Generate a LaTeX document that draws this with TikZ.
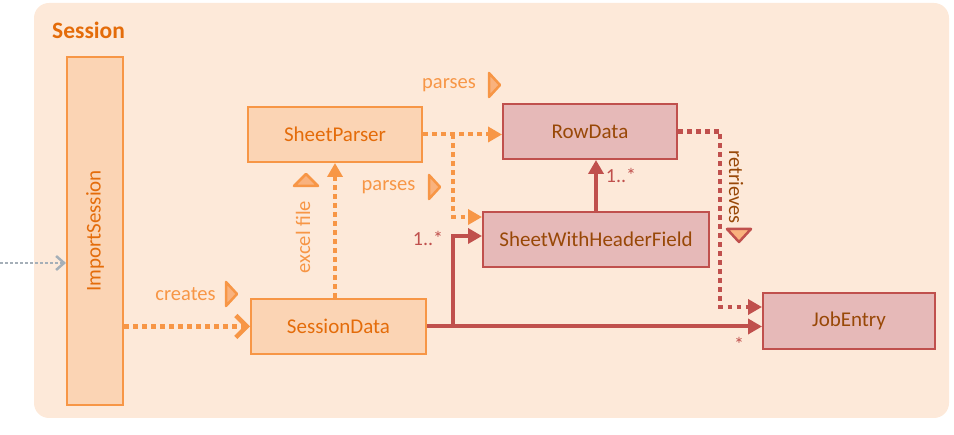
\documentclass[tikz,border=0pt]{standalone}
\usepackage{fontspec}
\setmainfont{Carlito}
\usepackage{xcolor}
\usepackage{tikz}
\usetikzlibrary{arrows.meta}

\definecolor{sessbg}{HTML}{FDE9D9}
\definecolor{orbox}{HTML}{FBD4B4}
\definecolor{orline}{HTML}{F79646}
\definecolor{ortext}{HTML}{E46C0A}
\definecolor{rdbox}{HTML}{E6B9B8}
\definecolor{rdline}{HTML}{C0504D}
\definecolor{brtext}{HTML}{984807}
\definecolor{trifill}{HTML}{F9B27E}
\definecolor{grayline}{HTML}{A5AFB8}

\begin{document}
\begin{tikzpicture}[x=1pt, y=-1pt,
	boxfont/.style={font=\fontsize{21}{25}\selectfont},
	orclass/.style={boxfont, draw=orline, fill=orbox, line width=2pt, text=ortext, inner sep=0pt},
	rdclass/.style={boxfont, draw=rdline, fill=rdbox, line width=2pt, text=brtext, inner sep=0pt},
	ordep/.style={draw=orline, line width=4.5pt, dash pattern=on 4.5pt off 4.5pt},
	rddep/.style={draw=rdline, line width=4.5pt, dash pattern=on 4.5pt off 4.5pt},
	rdassoc/.style={draw=rdline, line width=4pt, -{Triangle[length=14pt, width=15pt]}},
	tri/.style={line width=2.5pt, line join=round, fill=trifill},
	lbl/.style={font=\fontsize{20.5}{24}\selectfont, text=orline, inner sep=0pt},
	mult/.style={font=\fontsize{20}{24}\selectfont, text=rdline, inner sep=0pt}]
	\useasboundingbox (0, 0) rectangle (954, 435);
	\fill[sessbg, rounded corners=15pt] (34, 3) rectangle (949, 418);
	\node[anchor=west, inner sep=0pt, text=ortext, font=\fontsize{23.5}{28}\selectfont\bfseries] (title) at (52, 30) {Session};
	
	\node[orclass, minimum width=56, minimum height=348,
		label={[rotate=90, boxfont, text=ortext]center:ImportSession}] (importsession) at (95, 231) {};
	\node[orclass, minimum width=174, minimum height=55] (sheetparser) at (335, 134.5) {SheetParser};
	\node[orclass, minimum width=175, minimum height=55] (sessiondata) at (338.5, 326.5) {SessionData};
	\node[rdclass, minimum width=174, minimum height=55] (rowdata) at (590, 131.5) {RowData};
	\node[rdclass, minimum width=226, minimum height=55] (swhf) at (596, 239.5) {SheetWithHeaderField};
	\node[rdclass, minimum width=172, minimum height=56] (jobentry) at (849, 321) {JobEntry};
	
	\coordinate (entry) at (0, 263);
	\coordinate (pbranch) at (453, 134.5);
	\coordinate (sbranch) at (453, 326.5);
	\coordinate (rturn) at (720, 131.5);
	
	\draw[draw=grayline, line width=2.5pt, dash pattern=on 2.5pt off 2.5pt,
		-{Straight Barb[length=8pt, width=14pt, line width=2.5pt]}] (entry) -- (entry -| importsession.west);
	\draw[ordep, -{Straight Barb[length=11pt, width=22pt, line width=4.5pt]}] (importsession.east |- sessiondata.west) -- (sessiondata.west);
	\draw[ordep, line width=4pt, -{Triangle[length=14pt, width=15pt]}] (sheetparser.south |- sessiondata.north) -- (sheetparser.south);
	\draw[ordep, line width=4pt, -{Triangle[length=14pt, width=15pt]}] (sheetparser.east) -- (sheetparser.east -| rowdata.west);
	\draw[ordep, line width=4pt, -{Triangle[length=14pt, width=15pt]}] (pbranch) |- ([yshift=22.5pt]swhf.west);
	\draw[rdassoc] (sessiondata.east) -- (sessiondata.east -| jobentry.west);
	\draw[rdassoc] (sbranch) |- ([yshift=3.5pt]swhf.west);
	\draw[rdassoc] (swhf.north) -- (swhf.north |- rowdata.south);
	\draw[rddep, -{Triangle[length=14pt, width=15pt]}] (rowdata.east) -- (rturn) |- ([yshift=14pt]jobentry.west);
	
	\node[lbl] (parsesA) at (449, 85) {parses};
	\node[lbl] (parsesB) at (388.5, 187) {parses};
	\node[lbl] (creates) at (185.5, 294) {creates};
	\node[lbl, rotate=90] (excel) at (303, 237) {excel file};
	\node[lbl, rotate=-90, text=brtext] (retrieves) at (736, 187) {retrieves};
	\node[mult] (multA) at (428, 238) {1..*};
	\node[mult] (multB) at (621, 175) {1..*};
	\node[mult] (multC) at (739, 344) {*};
	
	\filldraw[tri, draw=orline] (489, 73) -- (500, 85) -- (489, 97) -- cycle;
	\filldraw[tri, draw=orline] (429, 175) -- (440, 187) -- (429, 199) -- cycle;
	\filldraw[tri, draw=orline] (226, 282) -- (237, 294) -- (226, 306) -- cycle;
	\filldraw[tri, draw=orline] (294, 186) -- (306, 174) -- (318, 186) -- cycle;
	\filldraw[tri, draw=rdline] (727, 229) -- (739, 242) -- (751, 229) -- cycle;
\end{tikzpicture}
\end{document}
